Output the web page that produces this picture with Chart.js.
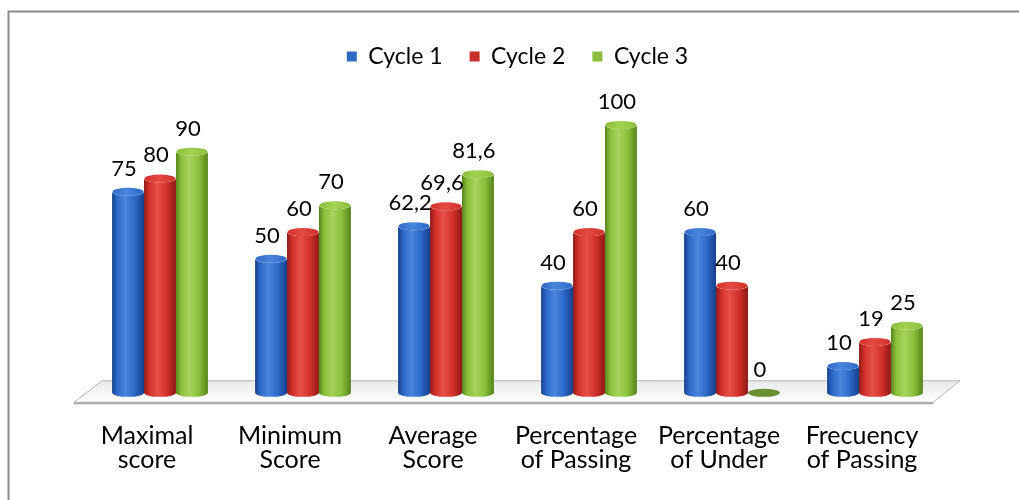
<!DOCTYPE html>
<html>
<head>
<meta charset="utf-8">
<title>Cycle scores</title>
<script src="https://cdn.jsdelivr.net/npm/chart.js@4.4.1/dist/chart.umd.min.js"></script>
<style>
  html, body { margin: 0; padding: 0; background: #ffffff; }
  #wrap { position: relative; width: 1019px; height: 500px; }
</style>
</head>
<body>
<div id="wrap"><canvas id="chart" width="1019" height="500"></canvas></div>
<script>
/* Datos del gráfico */
const categories = [
  ["Maximal", "score"],
  ["Minimum", "Score"],
  ["Average", "Score"],
  ["Percentage", "of Passing"],
  ["Percentage", "of Under"],
  ["Frecuency", "of Passing"]
];
const seriesNames = ["Cycle 1", "Cycle 2", "Cycle 3"];
const cycle1 = [75, 50, 62.2, 40, 60, 10];
const cycle2 = [80, 60, 69.6, 60, 40, 19];
const cycle3 = [90, 70, 81.6, 100, 0, 25];

const FONT = "Lato, 'Open Sans', sans-serif";
const CYL = [
  { dark: "#173f8a", mid: "#2c69c8", light: "#4a86dc", cap: "#4a86dc" },
  { dark: "#8e1a16", mid: "#d22f29", light: "#e5504a", cap: "#e24a42" },
  { dark: "#56831c", mid: "#89bf3a", light: "#a5d45c", cap: "#a3d152" }
];
const RY = 4;

/** Moldura cinza (bordas superior e esquerda da imagem). */
const framePlugin = {
  id: "frame",
  beforeDraw(chart) {
    const ctx = chart.ctx;
    ctx.save();
    ctx.strokeStyle = "#8a8a8a";
    ctx.lineWidth = 2;
    ctx.beginPath();
    ctx.moveTo(8.5, chart.height);
    ctx.lineTo(8.5, 11.5);
    ctx.lineTo(chart.width, 11.5);
    ctx.stroke();
    ctx.restore();
  }
};

/** Piso em perspectiva sob as barras. */
const floorPlugin = {
  id: "floor",
  beforeDatasetsDraw(chart) {
    const { ctx, chartArea } = chart;
    const y0 = chart.scales.y.getPixelForValue(0);
    const backY = y0 - 12;
    const frontY = y0 + 9.5;
    const bl = chartArea.left + 13.5, br = chartArea.right + 13.5;
    const fl = chartArea.left - 14.5, fr = chartArea.right - 13.5;

    ctx.save();
    const g = ctx.createLinearGradient(0, backY, 0, frontY);
    g.addColorStop(0, "#e9e9e9");
    g.addColorStop(1, "#ffffff");
    ctx.fillStyle = g;
    ctx.beginPath();
    ctx.moveTo(bl, backY);
    ctx.lineTo(br, backY);
    ctx.lineTo(fr, frontY);
    ctx.lineTo(fl, frontY);
    ctx.closePath();
    ctx.fill();
    ctx.strokeStyle = "#b4b4b4";
    ctx.lineWidth = 1;
    ctx.stroke();
    // espessura frontal
    ctx.fillStyle = "#a8a8a8";
    ctx.fillRect(fl, frontY, fr - fl, 2);
    ctx.restore();
  }
};

/** Desenha cada barra como cilindro, usando as posições calculadas pelo Chart.js. */
const cylinderPlugin = {
  id: "cylinder",
  beforeDatasetDraw(chart, args) {
    const ctx = chart.ctx;
    const meta = args.meta;
    const c = CYL[args.index];
    ctx.save();
    meta.data.forEach((el) => {
      const { x, y, base, width } = el.getProps(["x", "y", "base", "width"], true);
      const rx = width / 2;
      const left = x - rx, right = x + rx;

      if (base - y < 1) {
        ctx.fillStyle = "#6a8f34";
        ctx.beginPath();
        ctx.ellipse(x, base, rx, RY, 0, 0, Math.PI * 2);
        ctx.fill();
        return;
      }

      const g = ctx.createLinearGradient(left, 0, right, 0);
      g.addColorStop(0, c.dark);
      g.addColorStop(0.16, c.mid);
      g.addColorStop(0.42, c.light);
      g.addColorStop(0.72, c.mid);
      g.addColorStop(1, c.dark);
      ctx.fillStyle = g;
      ctx.beginPath();
      ctx.moveTo(left, y);
      ctx.lineTo(left, base);
      ctx.ellipse(x, base, rx, RY, 0, Math.PI, 0, true);
      ctx.lineTo(right, y);
      ctx.ellipse(x, y, rx, RY, 0, 0, Math.PI, false);
      ctx.closePath();
      ctx.fill();

      const gc = ctx.createLinearGradient(left, 0, right, 0);
      gc.addColorStop(0, c.mid);
      gc.addColorStop(0.45, c.cap);
      gc.addColorStop(1, c.mid);
      ctx.fillStyle = gc;
      ctx.beginPath();
      ctx.ellipse(x, y, rx - 0.5, RY, 0, 0, Math.PI * 2);
      ctx.fill();
    });
    ctx.restore();
    return false;
  }
};

/** Rótulos de valor acima de cada cilindro (vírgula decimal). */
const valueLabelPlugin = {
  id: "valueLabels",
  afterDatasetsDraw(chart) {
    const ctx = chart.ctx;
    ctx.save();
    ctx.font = "22px " + FONT;
    ctx.fillStyle = "#000000";
    ctx.textAlign = "center";
    ctx.textBaseline = "alphabetic";
    chart.data.datasets.forEach((ds, di) => {
      chart.getDatasetMeta(di).data.forEach((el, i) => {
        const text = String(ds.data[i]).replace(".", ",");
        ctx.fillText(text, el.x - 4, el.y - RY - 12);
      });
    });
    ctx.restore();
  }
};

const ctx = document.getElementById("chart").getContext("2d");
new Chart(ctx, {
  type: "bar",
  data: {
    labels: categories,
    datasets: [
      { label: seriesNames[0], data: cycle1, backgroundColor: "#2f6bc6", borderWidth: 0 },
      { label: seriesNames[1], data: cycle2, backgroundColor: "#c9302b", borderWidth: 0 },
      { label: seriesNames[2], data: cycle3, backgroundColor: "#8dbd3c", borderWidth: 0 }
    ]
  },
  options: {
    responsive: false,
    animation: false,
    layout: { padding: { top: 18, left: 88.5, right: 72.5, bottom: 0 } },
    datasets: { bar: { barPercentage: 1, categoryPercentage: 0.67 } },
    plugins: {
      legend: {
        position: "top",
        labels: {
          boxWidth: 10,
          boxHeight: 10,
          padding: 27,
          color: "#000000",
          font: { family: FONT, size: 23 }
        }
      },
      tooltip: { enabled: false }
    },
    scales: {
      x: {
        grid: { display: false, drawTicks: false },
        border: { display: false },
        afterFit: (scale) => {
          scale.height = 107.2;
        },
        ticks: {
          padding: 32,
          labelOffset: -13,
          color: "#000000",
          font: { family: FONT, size: 25, lineHeight: 0.93 }
        }
      },
      y: {
        display: false,
        min: 0,
        max: 117.5
      }
    }
  },
  plugins: [framePlugin, floorPlugin, cylinderPlugin, valueLabelPlugin]
});
</script>
</body>
</html>
